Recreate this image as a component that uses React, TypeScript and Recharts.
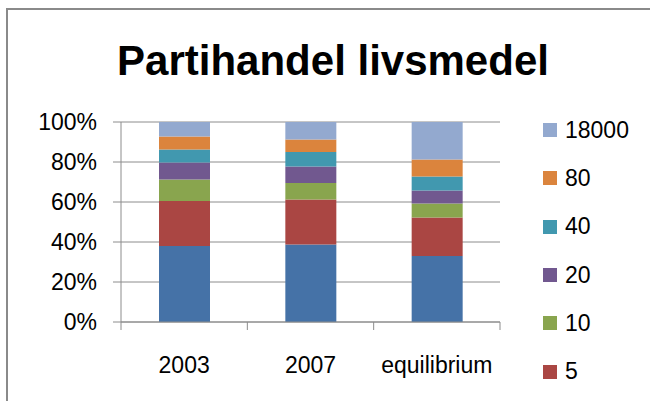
import { BarChart, Bar, XAxis, YAxis, CartesianGrid } from 'recharts'

const categories = ['2003', '2007', 'equilibrium']
const seriesNames = ['1', '5', '10', '20', '40', '80', '18000']
const size1 = [38, 38.8, 33]
const size5 = [22.5, 22.5, 19.2]
const size10 = [10.8, 8.2, 7]
const size20 = [8.5, 8.3, 6.5]
const size40 = [6.4, 7.2, 7]
const size80 = [6.5, 6.3, 8.5]
const size18000 = [7.3, 8.7, 18.8]
const yTicks = [0, 0.2, 0.4, 0.6, 0.8, 1]

const seriesValues = [size1, size5, size10, size20, size40, size80, size18000]
const colors = ['#4572A7', '#AA4643', '#89A54E', '#71588F', '#4198AF', '#DB843D', '#93A9CF']

const data = categories.map((name, i) => {
  const row: Record<string, string | number> = { name }
  seriesNames.forEach((s, j) => { row['s' + s] = seriesValues[j][i] })
  return row
})

const FONT = '"Liberation Sans", Arial, sans-serif'
const GRID = '#8c8c8c'

function XTick(props: any) {
  const { x, y, payload, index } = props
  const off = payload?.offset || 379 / 6
  const axisY = y - 8
  return (
    <g>
      <line x1={x - off} x2={x - off} y1={axisY} y2={axisY + 8} stroke={GRID} />
      {index === categories.length - 1 && (
        <line x1={x + off} x2={x + off} y1={axisY} y2={axisY + 8} stroke={GRID} />
      )}
      <text x={x} y={axisY + 51} textAnchor="middle" fill="#000" fontSize={23} fontFamily={FONT}>
        {payload.value}
      </text>
    </g>
  )
}

function LegendBox() {
  // legend lists the series top-down in reverse order; the first entry falls below the visible area
  const items = seriesNames.map((s, j) => ({ name: s, color: colors[j] })).reverse()
  return (
    <div style={{ position: 'absolute', left: 543, top: 106, fontFamily: FONT, fontSize: 23, color: '#000' }}>
      {items.map((it) => (
        <div key={it.name} style={{ height: 48.3, display: 'flex', alignItems: 'center' }}>
          <span style={{ width: 14, height: 14, background: it.color, display: 'inline-block', marginRight: 8 }} />
          <span>{it.name}</span>
        </div>
      ))}
    </div>
  )
}

export default function App() {
  return (
    <div style={{ position: 'relative', width: 650, height: 401, overflow: 'hidden', background: '#fff' }}>
      <style>{`body{margin:0}`}</style>
      <div style={{ position: 'absolute', left: 6, top: 8, width: 644, height: 393, borderLeft: '2px solid #8a8a8a', borderTop: '2px solid #8a8a8a', boxSizing: 'border-box' }} />
      <div style={{ position: 'absolute', left: 0, top: 40, width: 666, textAlign: 'center', fontFamily: FONT, fontWeight: 'bold', fontSize: 42, lineHeight: '42px', color: '#000' }}>
        Partihandel livsmedel
      </div>
      <div style={{ position: 'absolute', left: 0, top: 0 }}>
        <BarChart
          width={650}
          height={401}
          data={data}
          stackOffset="expand"
          margin={{ top: 122, right: 150, bottom: 49, left: 0 }}
        >
          <CartesianGrid vertical={false} stroke={GRID} />
          <YAxis
            width={121}
            ticks={yTicks}
            domain={[0, 1]}
            tickFormatter={(v: number) => `${Math.round(v * 100)}%`}
            tick={{ fill: '#000', fontSize: 23, fontFamily: FONT }}
            tickSize={8}
            tickMargin={16}
            axisLine={{ stroke: GRID }}
            tickLine={{ stroke: GRID }}
          />
          <XAxis
            dataKey="name"
            height={30}
            tickSize={8}
            tickMargin={0}
            tickLine={false}
            axisLine={{ stroke: GRID }}
            tick={<XTick />}
            interval={0}
          />
          {seriesNames.map((s, j) => (
            <Bar key={s} name={s} dataKey={'s' + s} stackId="a" fill={colors[j]} barSize={51} isAnimationActive={false} />
          ))}
        </BarChart>
      </div>
      <LegendBox />
    </div>
  )
}
